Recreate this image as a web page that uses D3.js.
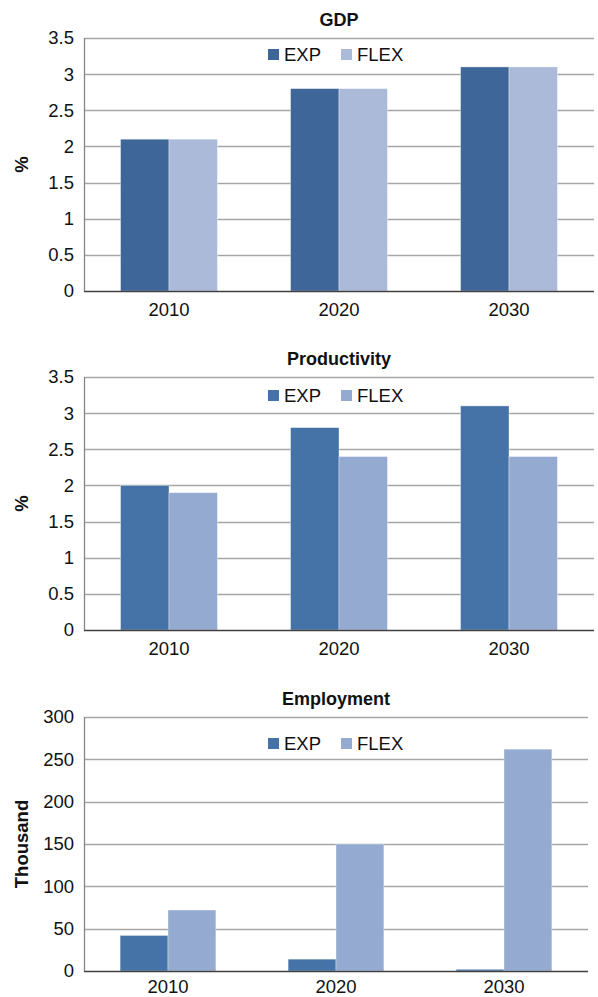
<!DOCTYPE html>
<html>
<head>
<meta charset="utf-8">
<script src="https://cdn.jsdelivr.net/npm/d3@7"></script>
<style>
  html, body { margin: 0; padding: 0; background: #fff; }
  svg { display: block; font-family: "Liberation Sans", Arial, sans-serif; }
</style>
</head>
<body>
<svg id="chart" width="598" height="997"></svg>
<script>
// ---- data ----
const categories = ["2010", "2020", "2030"];
const seriesNames = ["EXP", "FLEX"];

const gdpExp = [2.1, 2.8, 3.1];
const gdpFlex = [2.1, 2.8, 3.1];

const prodExp = [2.0, 2.8, 3.1];
const prodFlex = [1.9, 2.4, 2.4];

const empExp = [42, 14, 2];
const empFlex = [72, 150, 262];

const pctTicks = [0, 0.5, 1, 1.5, 2, 2.5, 3, 3.5];
const empTicks = [0, 50, 100, 150, 200, 250, 300];

const titles = ["GDP", "Productivity", "Employment"];
const yTitles = ["%", "%", "Thousand"];

// ---- layout / style ----
const panels = [
  { title: titles[0], yTitle: yTitles[0], exp: gdpExp, flex: gdpFlex, ticks: pctTicks, max: 3.5,
    top: 38, bottom: 291, left: 84, right: 594, legendY: 61, xPad: 12, colors: ["#3e6698", "#abbad8"] },
  { title: titles[1], yTitle: yTitles[1], exp: prodExp, flex: prodFlex, ticks: pctTicks, max: 3.5,
    top: 377, bottom: 630, left: 84, right: 594, legendY: 402, xPad: 12, colors: ["#4573a7", "#95aad0"] },
  { title: titles[2], yTitle: yTitles[2], exp: empExp, flex: empFlex, ticks: empTicks, max: 300,
    top: 717, bottom: 971, left: 84, right: 588, legendY: 750, xPad: 9, colors: ["#4573a7", "#95aad0"] }
];

const svg = d3.select("#chart");

panels.forEach(p => {
  const g = svg.append("g");
  const x = d3.scaleBand().domain(categories).range([p.left, p.right]).paddingInner(0.43).paddingOuter(0.215);
  const xs = d3.scaleBand().domain(seriesNames).range([0, x.bandwidth()]);
  const y = d3.scaleLinear().domain([0, p.max]).range([p.bottom, p.top]);

  // gridlines
  g.append("g").selectAll("line").data(p.ticks.filter(t => t > 0)).join("line")
    .attr("x1", p.left).attr("x2", p.right)
    .attr("y1", d => Math.round(y(d)) + 0.5).attr("y2", d => Math.round(y(d)) + 0.5)
    .attr("stroke", "#a6a6a6").attr("stroke-width", 1.3);

  // y tick labels via axis
  const yAxis = d3.axisLeft(y).tickValues(p.ticks).tickSize(0).tickPadding(10).tickFormat(d3.format("~g"));
  const ya = g.append("g").attr("transform", `translate(${p.left},0)`).call(yAxis);
  ya.select(".domain").remove();
  ya.selectAll("text").attr("font-size", 18.5).attr("fill", "#111").attr("font-family", "Liberation Sans, Arial, sans-serif");

  // bars
  const rows = categories.map((c, i) => ({ cat: c, vals: [p.exp[i], p.flex[i]] }));
  const grp = g.append("g").selectAll("g").data(rows).join("g")
    .attr("transform", d => `translate(${x(d.cat)},0)`);
  grp.selectAll("rect").data(d => d.vals.map((v, j) => ({ s: seriesNames[j], v, j }))).join("rect")
    .attr("x", d => xs(d.s))
    .attr("width", xs.bandwidth())
    .attr("y", d => y(d.v))
    .attr("height", d => y(0) - y(d.v))
    .attr("fill", d => p.colors[d.j])
    .attr("stroke", "rgba(255,255,255,0.45)")
    .attr("stroke-width", 0.8);

  // axes lines
  g.append("line").attr("x1", p.left + 0.5).attr("x2", p.left + 0.5).attr("y1", p.top).attr("y2", p.bottom)
    .attr("stroke", "#868686").attr("stroke-width", 1.3);
  g.append("line").attr("x1", p.left).attr("x2", p.right).attr("y1", p.bottom + 0.5).attr("y2", p.bottom + 0.5)
    .attr("stroke", "#404040").attr("stroke-width", 1.3);

  // x labels via axis
  const xAxis = d3.axisBottom(x).tickSize(0).tickPadding(p.xPad);
  const xa = g.append("g").attr("transform", `translate(0,${p.bottom})`).call(xAxis);
  xa.select(".domain").remove();
  xa.selectAll("text").attr("font-size", 18.5).attr("fill", "#111").attr("font-family", "Liberation Sans, Arial, sans-serif");

  // title
  g.append("text").attr("x", (p.left + p.right) / 2).attr("y", p.top - 12)
    .attr("text-anchor", "middle").attr("font-size", 18).attr("font-weight", "bold").attr("fill", "#111")
    .text(p.title);

  // y title
  g.append("text")
    .attr("transform", `translate(28,${(p.top + p.bottom) / 2}) rotate(-90)`)
    .attr("text-anchor", "middle").attr("font-size", 18.5).attr("font-weight", "bold").attr("fill", "#111")
    .text(p.yTitle);

  // legend
  const legX = [268, 341];
  const lg = g.append("g").selectAll("g").data(seriesNames).join("g")
    .attr("transform", (d, i) => `translate(${legX[i]},${p.legendY})`);
  lg.append("rect").attr("x", 0).attr("y", -12).attr("width", 11).attr("height", 11)
    .attr("fill", (d, i) => p.colors[i]);
  lg.append("text").attr("x", 16).attr("y", 0).attr("font-size", 18.5).attr("fill", "#111").text(d => d);
});
</script>
</body>
</html>
